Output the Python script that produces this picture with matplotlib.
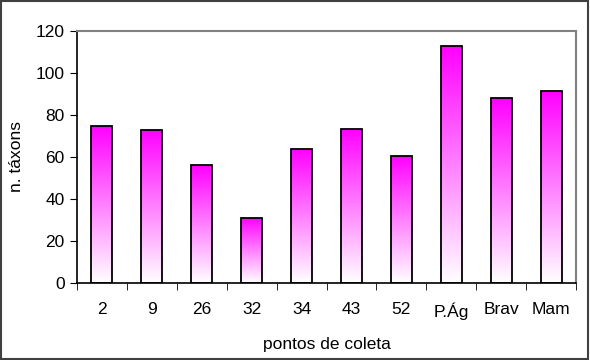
import numpy as np
import matplotlib.pyplot as plt
from matplotlib.colors import LinearSegmentedColormap
from matplotlib.patches import Rectangle

plt.rcParams['font.family'] = ['Liberation Sans', 'DejaVu Sans']

pontos = ['2', '9', '26', '32', '34', '43', '52', 'P.Ág', 'Brav', 'Mam']
taxons = [75, 73, 56, 31, 64, 73.5, 60.5, 113, 88, 91.5]

fig = plt.figure(figsize=(5.9, 3.6), dpi=100)
ax = fig.add_axes([77/590, 1-283/360, (576-77)/590, (283-31)/360])

cmap = LinearSegmentedColormap.from_list('mag', ['#ffffff', '#ff00ff'])
grad = np.linspace(0, 1, 256).reshape(-1, 1)

width = 0.42
x = np.arange(len(pontos))
bars = ax.bar(x, taxons, width, color='none', edgecolor='black', linewidth=1.3, zorder=3)
for b in bars:
    x0, y0 = b.get_x(), b.get_y()
    w, h = b.get_width(), b.get_height()
    im = ax.imshow(grad, cmap=cmap, aspect='auto', origin='lower',
                   extent=(x0, x0 + w, y0, y0 + h), zorder=2)
    im.set_clip_path(Rectangle((x0, y0), w, h, transform=ax.transData))

ax.set_xlim(-0.5, len(pontos) - 0.5)
ax.set_ylim(0, 120)
ax.set_yticks(np.arange(0, 121, 20))
ax.set_xticks(x)
ax.set_xticklabels(pontos)
ax.set_xticks(np.arange(-0.5, len(pontos), 1), minor=True)
ax.tick_params(axis='x', which='major', length=0, pad=14, labelsize=12.5)
ax.tick_params(axis='x', which='minor', length=5, direction='out')
ax.tick_params(axis='y', length=5, direction='out', labelsize=12.5, pad=4)

for s in ['left', 'bottom']:
    ax.spines[s].set_color('black')
    ax.spines[s].set_linewidth(1.2)
for s in ['top', 'right']:
    ax.spines[s].set_color('#808080')
    ax.spines[s].set_linewidth(1.5)

ax.set_ylabel('n. táxons', fontsize=12.5, labelpad=8)
ax.set_xlabel('pontos de coleta', fontsize=12.5, labelpad=12)

fig.patches.append(Rectangle((0.002, 0.002), 0.994, 0.994, transform=fig.transFigure,
                             fill=False, edgecolor='#404040', linewidth=1.5))

fig.savefig('out.png', dpi=100)
